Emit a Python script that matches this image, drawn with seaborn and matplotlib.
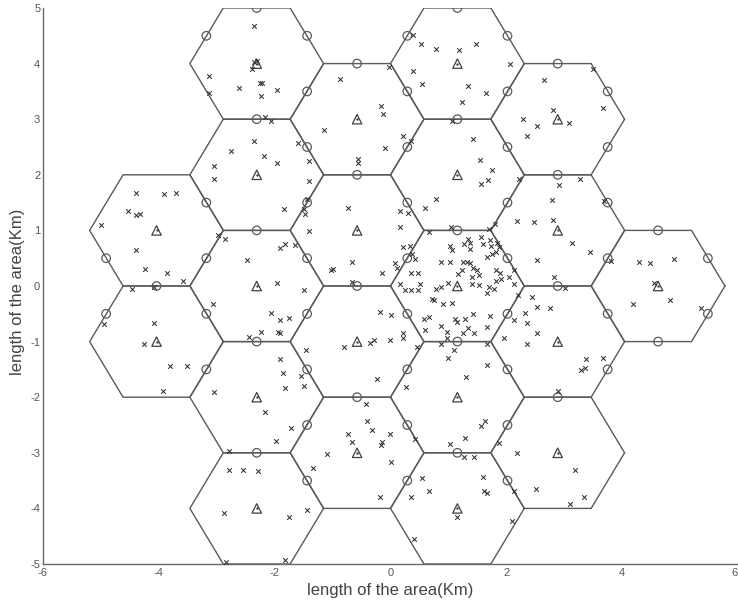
import numpy as np
import pandas as pd
import matplotlib
matplotlib.use("Agg")
import matplotlib.pyplot as plt
import seaborn as sns

# Cell layout: flat-top hexagons, centre-to-edge distance 1 km
R = 2 / np.sqrt(3)
cell_x = [-4.04, -4.04,
          -2.31, -2.31, -2.31, -2.31, -2.31,
          -0.577, -0.577, -0.577, -0.577,
          1.155, 1.155, 1.155, 1.155, 1.155,
          2.887, 2.887, 2.887, 2.887,
          4.62]
cell_y = [1, -1,
          4, 2, 0, -2, -4,
          3, 1, -1, -3,
          4, 2, 0, -2, -4,
          3, 1, -1, -3,
          0]

# Relay stations on cell edges
relay_x = [-2.31, 1.155,
           -3.18, -1.44, 0.29, 2.02,
           -0.577, 2.887,
           -1.44, 0.29, 2.02, 3.75,
           -2.31, 1.155,
           -1.44, 0.29, 2.02, 3.75,
           -0.577, 2.887,
           -3.18, -1.44, 0.29, 2.02, 3.75,
           -2.31, 1.155, 4.62,
           -4.91, -3.18, -1.44, 0.29, 2.02, 3.75, 5.48,
           -4.04, -0.577, 2.887,
           -4.91, -3.18, -1.44, 0.29, 2.02, 3.75, 5.48,
           -2.31, 1.155, 4.62,
           -3.18, -1.44, 0.29, 2.02, 3.75,
           -0.577, 2.887,
           -1.44, 0.29, 2.02,
           -2.31, 1.155,
           -1.44, 0.29, 2.02]
relay_y = [5, 5,
           4.5, 4.5, 4.5, 4.5,
           4, 4,
           3.5, 3.5, 3.5, 3.5,
           3, 3,
           2.5, 2.5, 2.5, 2.5,
           2, 2,
           1.5, 1.5, 1.5, 1.5, 1.5,
           1, 1, 1,
           0.5, 0.5, 0.5, 0.5, 0.5, 0.5, 0.5,
           0, 0, 0,
           -0.5, -0.5, -0.5, -0.5, -0.5, -0.5, -0.5,
           -1, -1, -1,
           -1.5, -1.5, -1.5, -1.5, -1.5,
           -2, -2,
           -2.5, -2.5, -2.5,
           -3, -3,
           -3.5, -3.5, -3.5]

# User positions (km)
user_x = [-2.36, -2.35, -2.31, -2.39, -3.14, -3.14, -2.62, -2.26, -2.22, -2.24,
          -2.16, -2.07, -2.36, -2.76, -2.18, -3.05, -3.05, -4.39, -3.91, -3.71,
          0.39, 0.53, 0.79, 1.18, 1.47, -0.02, 0.39, -0.87, 0.54, 1.33,
          1.65, -1.96, 1.24, -0.16, -0.13, 1.06, -1.14, 0.22, 1.43, -1.59,
          0.35, -0.09, -1.96, -1.40, -0.56, -0.56, 1.55, 1.76, 1.57, 1.68,
          -1.40, -1.45, 0.79,
          2.06, 3.49, 2.65, 2.80, 3.67, 2.29, 2.53, 3.09, 2.35, 2.22,
          3.28, 2.91, 2.79, 3.69,
          -4.53, -4.40, -4.32, -4.99, -2.98, -2.85, -4.39, -2.47, -4.24, -3.86,
          -3.58, -4.47, -4.09, -3.07, -2.06, -4.95, -4.09, -4.26, -2.24, -2.44,
          -3.81, -3.51, -3.92, -3.04,
          -1.84, -1.49, -1.48, -0.74, 0.16, 0.31, 0.60, -1.41, 0.16, 0.67,
          1.05, 1.70, 1.81, -1.90, -1.83, -1.65, 0.21, 0.33, 1.03, 1.06,
          1.27, 1.34, 1.37, 1.38, 1.57, 1.60, 1.72, 1.74, 1.84, 1.88,
          1.82, 1.76, 1.66, -0.66, -1.03, -0.99, -0.15, 0.07, 0.11, 0.37,
          0.43, 0.36, 0.48, 0.87, 1.03, 1.26, 1.32, 1.38, 1.43, 1.50,
          1.24, 1.17, 1.40, 1.52, 1.83, 1.89, 1.82, 1.90, -1.96, -1.50,
          -0.67, 0.17, 0.51, 0.25, 0.36, 0.47, 0.78, 0.88, 1.00, 1.40,
          1.52, 1.70, 1.79, 1.67, 0.72, 0.75, 0.91, 1.06, -1.90, -1.76,
          -1.95, -1.90, -0.18, 0.01, 0.58, 0.66, 1.12, 1.14, 1.28, 1.43,
          1.72, 0.59, 0.88, 0.98, 0.98, 1.33, 1.26, 1.44, 1.67, 0.88,
          1.66, 0.21, 0.22, -0.01, -0.35, -0.28, -0.80, -1.46, 0.45, 1.09,
          1.00, -1.90, 1.67, -1.86, -1.55, -1.49, -1.82, -0.24, 0.26, 1.31,
          -0.43,
          2.18, 2.47, 2.81, 3.14, 3.44, 2.53, 3.81, 4.29, 4.48, 4.89,
          2.13, 2.05, 2.83, 3.02, 4.55, 2.13, 2.20, 2.45, 4.19, 4.82,
          5.36, 2.53, 2.75, 2.32, 2.13, 2.35, 2.53, 1.96, 2.36, 3.37,
          3.67, 3.29, 3.35, 2.90,
          -2.16, -2.79, -2.78, -2.55, -2.28, -2.87, -2.84,
          -1.71, -1.97, -0.41, -0.32, -0.74, -0.66, -0.14, -0.17, -0.01, -1.10,
          0.01, -1.33, 0.43, 1.03, 1.29, 1.57, 1.63, 1.27, 1.44, 1.88,
          0.54, 0.66, 0.36, -0.18, 1.59, 1.62, 1.67, 1.14, -1.45, -1.76,
          0.41, -1.82,
          2.19, 3.18, 2.51, 2.14, 3.34, 3.10, 2.10]
user_y = [4.68, 4.02, 4.05, 3.90, 3.78, 3.48, 3.56, 3.66, 3.66, 3.42,
          3.04, 2.96, 2.60, 2.42, 2.34, 2.16, 1.92, 1.68, 1.65, 1.68,
          4.51, 4.35, 4.27, 4.24, 4.35, 3.93, 3.87, 3.72, 3.63, 3.60,
          3.48, 3.53, 3.31, 3.24, 3.09, 2.96, 2.81, 2.69, 2.64, 2.58,
          2.60, 2.49, 2.21, 2.25, 2.28, 2.21, 2.27, 2.09, 1.83, 1.90,
          1.88, 1.56, 1.56,
          3.99, 3.90, 3.71, 3.17, 3.20, 3.00, 2.88, 2.94, 2.69, 1.92,
          1.92, 1.82, 1.55, 1.52,
          1.35, 1.28, 1.29, 1.09, 0.92, 0.85, 0.65, 0.47, 0.30, 0.23,
          0.09, -0.06, -0.01, -0.32, -0.49, -0.68, -0.66, -1.04, -0.83, -0.92,
          -1.44, -1.44, -1.89, -1.91,
          1.38, 1.38, 1.29, 1.41, 1.34, 1.31, 1.40, 0.99, 1.06, 0.98,
          1.06, 1.02, 1.12, 0.68, 0.76, 0.73, 0.70, 0.72, 0.72, 0.64,
          0.75, 0.84, 0.77, 0.66, 0.88, 0.75, 0.83, 0.72, 0.78, 0.71,
          0.62, 0.57, 0.53, 0.44, 0.29, 0.30, 0.23, 0.41, 0.32, 0.57,
          0.48, 0.23, 0.23, 0.44, 0.43, 0.43, 0.44, 0.41, 0.32, 0.28,
          0.28, 0.22, 0.16, 0.20, 0.28, 0.23, 0.09, 0.13, 0.06, -0.07,
          0.07, 0.04, 0.04, -0.08, -0.08, -0.08, -0.05, -0.01, 0.05, 0.04,
          0.02, -0.02, -0.06, -0.13, -0.23, -0.26, -0.33, -0.30, -0.61, -0.58,
          -0.82, -0.84, -0.46, -0.53, -0.59, -0.55, -0.59, -0.64, -0.59, -0.50,
          -0.54, -0.80, -0.72, -0.83, -0.94, -0.76, -0.84, -0.84, -0.74, -1.04,
          -1.04, -0.85, -0.94, -0.98, -1.02, -0.97, -1.10, -1.16, -1.10, -1.15,
          -1.29, -1.32, -1.42, -1.57, -1.62, -1.79, -1.83, -1.68, -1.82, -1.63,
          -2.12,
          1.17, 1.16, 1.19, 0.77, 0.61, 0.47, 0.45, 0.43, 0.41, 0.48,
          0.29, 0.16, 0.16, -0.04, 0.06, 0.03, -0.16, -0.19, -0.32, -0.26,
          -0.40, -0.38, -0.40, -0.49, -0.62, -0.66, -0.85, -0.94, -1.04, -1.32,
          -1.29, -1.51, -1.47, -1.89,
          -2.26, -2.97, -3.31, -3.31, -3.32, -4.09, -4.97,
          -2.55, -2.78, -2.43, -2.59, -2.67, -2.81, -2.80, -2.86, -2.67, -3.03,
          -3.16, -3.28, -2.75, -2.85, -2.74, -2.51, -2.42, -3.08, -3.07, -2.82,
          -3.45, -3.68, -3.79, -3.79, -3.44, -3.68, -3.72, -4.16, -4.03, -4.15,
          -4.55, -4.92,
          -3.01, -3.31, -3.65, -3.68, -3.79, -3.92, -4.22]

x_ticks = [-6, -4, -2, 0, 2, 4, 6]
y_ticks = [-5, -4, -3, -2, -1, 0, 1, 2, 3, 4, 5]

sns.set_theme(style="white")
plt.rcParams["font.family"] = ["Liberation Sans", "DejaVu Sans"]

fig = plt.figure(figsize=(7.38, 6.05), dpi=100)
ax = fig.add_axes([43 / 738, 41 / 605, 695 / 738, 556 / 605])

line_col = "#5a5a5a"
mark_col = "#404040"

# Hexagonal cell outlines
ang = np.deg2rad(np.arange(0, 361, 60))
for cx, cy in zip(cell_x, cell_y):
    ax.plot(cx + R * np.cos(ang), cy + R * np.sin(ang),
            color=line_col, lw=1.0, solid_joinstyle="miter", zorder=1)

users = pd.DataFrame({"x": user_x, "y": user_y})
relays = pd.DataFrame({"x": relay_x, "y": relay_y})
cells = pd.DataFrame({"x": cell_x, "y": cell_y})

sns.scatterplot(data=users, x="x", y="y", marker="x", s=11,
                color="#333333", linewidth=0.75, ax=ax, zorder=3)
sns.scatterplot(data=relays, x="x", y="y", marker="o", s=38,
                facecolors="none", edgecolor=line_col, linewidth=0.9,
                ax=ax, zorder=2)
sns.scatterplot(data=cells, x="x", y="y", marker="^", s=46,
                facecolors="none", edgecolor=mark_col, linewidth=0.9,
                ax=ax, zorder=2)
sns.scatterplot(data=cells, x="x", y="y", marker="o", s=3,
                color=mark_col, linewidth=0, ax=ax, zorder=2)

ax.set_xlim(-6, 6)
ax.set_ylim(-5, 5)
ax.set_xticks(x_ticks)
ax.set_yticks(y_ticks)
ax.set_xticklabels([str(v) for v in x_ticks])
ax.set_yticklabels([str(v) for v in y_ticks])
ax.tick_params(axis="both", direction="in", length=5, width=0.8,
               colors="#555555", labelsize=8, labelcolor="#555555")
ax.tick_params(axis="y", pad=2)
ax.tick_params(axis="x", pad=3)
# keep the last x label inside the figure edge
ax.get_xticklabels()[-1].set_horizontalalignment("right")

for side in ["top", "right"]:
    ax.spines[side].set_visible(False)
for side in ["left", "bottom"]:
    ax.spines[side].set_color("#6a6a6a")
    ax.spines[side].set_linewidth(1.0)

ax.set_xlabel("length of the area(Km)", fontsize=12, color="#444444")
ax.set_ylabel("length of the area(Km)", fontsize=12, color="#444444")
ax.xaxis.set_label_coords(0.5, -0.034)
ax.yaxis.set_label_coords(-0.026, 0.49)

fig.savefig("out.png", dpi=100)
